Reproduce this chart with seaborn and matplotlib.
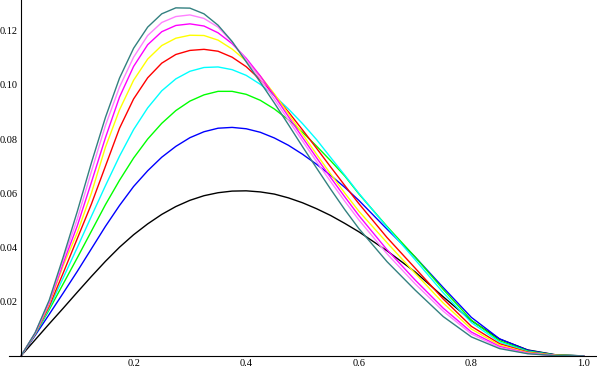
import matplotlib
matplotlib.use("Agg")
import pandas as pd
import matplotlib.pyplot as plt
import seaborn as sns
from matplotlib.ticker import FixedLocator, FixedFormatter

x = [0, 0.025, 0.05, 0.075, 0.1, 0.125, 0.15, 0.175, 0.2, 0.225, 0.25, 0.275,
     0.3, 0.325, 0.35, 0.375, 0.4, 0.425, 0.45, 0.475, 0.5, 0.525, 0.55, 0.575,
     0.6, 0.65, 0.7, 0.75, 0.8, 0.85, 0.9, 0.95, 1.0]

black = [0, 0.0059, 0.0118, 0.0176, 0.0235, 0.0293, 0.0349, 0.0401, 0.0447, 0.0487, 0.0522, 0.0551,
         0.0574, 0.0591, 0.0602, 0.0608, 0.0609, 0.0605, 0.0597, 0.0583, 0.0565, 0.0543, 0.0518, 0.0489,
         0.0458, 0.0388, 0.0310, 0.0218, 0.0130, 0.0062, 0.0022, 0.0004, 0]
blue = [0, 0.0075, 0.0153, 0.0232, 0.0312, 0.0395, 0.0478, 0.0555, 0.0625, 0.0683, 0.0733, 0.0773,
        0.0805, 0.0827, 0.0840, 0.0843, 0.0838, 0.0825, 0.0804, 0.0777, 0.0744, 0.0707, 0.0666, 0.0622,
        0.0574, 0.0468, 0.0365, 0.0252, 0.0142, 0.0063, 0.0021, 0.0003, 0]
green = [0, 0.0079, 0.0170, 0.0266, 0.0362, 0.0460, 0.0558, 0.0648, 0.0730, 0.0800, 0.0858, 0.0905,
         0.0940, 0.0963, 0.0976, 0.0976, 0.0965, 0.0943, 0.0911, 0.0871, 0.0825, 0.0774, 0.0720, 0.0664,
         0.0598, 0.0478, 0.0365, 0.0245, 0.0132, 0.0056, 0.0018, 0.0003, 0]
cyan = [0, 0.0080, 0.0176, 0.0288, 0.0400, 0.0515, 0.0628, 0.0737, 0.0835, 0.0915, 0.0978, 0.1022,
        0.1050, 0.1064, 0.1066, 0.1056, 0.1035, 0.1002, 0.0960, 0.0911, 0.0857, 0.0798, 0.0732, 0.0667,
        0.0600, 0.0475, 0.0355, 0.0233, 0.0123, 0.0051, 0.0016, 0.0002, 0]
red = [0, 0.0081, 0.0183, 0.0306, 0.0433, 0.0560, 0.0700, 0.0840, 0.0948, 0.1026, 0.1080, 0.1112,
       0.1127, 0.1131, 0.1124, 0.1102, 0.1067, 0.1019, 0.0962, 0.0900, 0.0834, 0.0766, 0.0697, 0.0629,
       0.0562, 0.0437, 0.0324, 0.0210, 0.0109, 0.0045, 0.0014, 0.0002, 0]
yellow = [0, 0.0082, 0.0190, 0.0333, 0.0455, 0.0600, 0.0770, 0.0908, 0.1017, 0.1095, 0.1145, 0.1172,
          0.1183, 0.1182, 0.1165, 0.1132, 0.1088, 0.1032, 0.0967, 0.0893, 0.0818, 0.0744, 0.0671, 0.0601,
          0.0534, 0.0418, 0.0305, 0.0195, 0.0099, 0.0040, 0.0012, 0.0002, 0]
magenta = [0, 0.0083, 0.0195, 0.0342, 0.0480, 0.0640, 0.0805, 0.0955, 0.1068, 0.1148, 0.1196, 0.1219,
           0.1225, 0.1217, 0.1192, 0.1152, 0.1098, 0.1033, 0.0960, 0.0883, 0.0806, 0.0731, 0.0658, 0.0587,
           0.0518, 0.0392, 0.0280, 0.0176, 0.0088, 0.0035, 0.0010, 0.0001, 0]
pink = [0, 0.0084, 0.0200, 0.0355, 0.0505, 0.0680, 0.0850, 0.0992, 0.1102, 0.1182, 0.1230, 0.1252,
        0.1258, 0.1245, 0.1213, 0.1158, 0.1093, 0.1022, 0.0947, 0.0870, 0.0793, 0.0717, 0.0643, 0.0571,
        0.0502, 0.0377, 0.0266, 0.0165, 0.0081, 0.0031, 0.0009, 0.0001, 0]
teal = [0, 0.0085, 0.0205, 0.0365, 0.0533, 0.0712, 0.0880, 0.1025, 0.1135, 0.1213, 0.1262, 0.1284,
        0.1283, 0.1262, 0.1220, 0.1160, 0.1085, 0.1010, 0.0933, 0.0853, 0.0772, 0.0693, 0.0615, 0.0540,
        0.0470, 0.0348, 0.0243, 0.0145, 0.0070, 0.0027, 0.0008, 0.0001, 0]

x_ticks = [0.2, 0.4, 0.6, 0.8, 1.0]
x_labels = ["0.2", "0.4", "0.6", "0.8", "1.0"]
y_ticks = [0.02, 0.04, 0.06, 0.08, 0.10, 0.12]
y_labels = ["0.02", "0.04", "0.06", "0.08", "0.10", "0.12"]

series = [("black", black), ("blue", blue), ("green", green), ("cyan", cyan), ("red", red),
          ("yellow", yellow), ("magenta", magenta), ("pink", pink), ("teal", teal)]
palette = {"black": "#000000", "blue": "#0000ff", "green": "#00ff00", "cyan": "#00ffff",
           "red": "#ff0000", "yellow": "#ffff00", "magenta": "#ff00ff", "pink": "#ff80ff",
           "teal": "#338080"}

df = pd.concat([pd.DataFrame({"x": x, "y": vals, "curve": name}) for name, vals in series],
               ignore_index=True)

sns.set_style("white")
plt.rcParams['font.family'] = ['Liberation Serif', 'DejaVu Serif']

fig = plt.figure(figsize=(5.97, 3.70), dpi=100)
ax = fig.add_axes([0, 0, 1, 1])
sns.lineplot(data=df, x="x", y="y", hue="curve", palette=palette, hue_order=[s[0] for s in series],
             estimator=None, linewidth=1.0, legend=False, ax=ax)

ax.set_xlim(-0.0373, 1.0231)
ax.set_ylim(-0.0052, 0.1313)
ax.set_xlabel("")
ax.set_ylabel("")

# axes crossing at the origin, Mathematica style
for side in ["top", "right"]:
    ax.spines[side].set_visible(False)
ax.spines["left"].set_position(("data", 0))
ax.spines["bottom"].set_position(("data", 0))
ax.spines["left"].set_bounds(0, 0.1313)
ax.spines["bottom"].set_bounds(-0.0213, 1.0231)
for side in ["left", "bottom"]:
    ax.spines[side].set_color("black")
    ax.spines[side].set_linewidth(0.8)

ax.xaxis.set_major_locator(FixedLocator(x_ticks))
ax.xaxis.set_major_formatter(FixedFormatter(x_labels))
ax.xaxis.set_minor_locator(FixedLocator([i * 0.05 for i in range(1, 21) if i % 4 != 0]))
ax.yaxis.set_major_locator(FixedLocator(y_ticks))
ax.yaxis.set_major_formatter(FixedFormatter(y_labels))
ax.yaxis.set_minor_locator(FixedLocator([i * 0.005 for i in range(1, 27) if i % 4 != 0]))

ax.tick_params(axis="both", which="major", direction="in", length=4, width=0.7,
               labelsize=7.5, colors="black", pad=2.5)
ax.tick_params(axis="both", which="minor", direction="in", length=2, width=0.6, colors="black")
ax.grid(False)

fig.savefig("out.png", dpi=100)
